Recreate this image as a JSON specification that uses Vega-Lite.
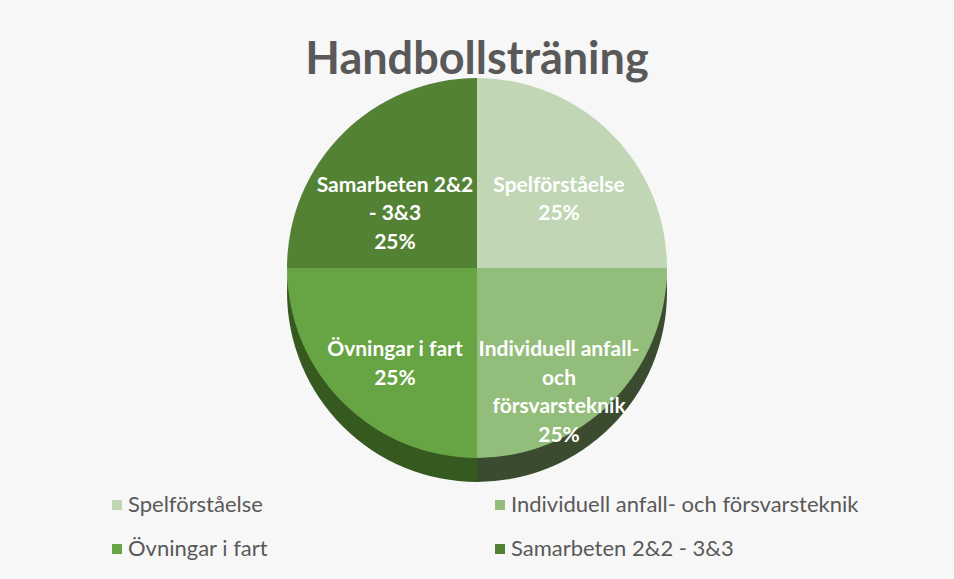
{
  "$schema": "https://vega.github.io/schema/vega-lite/v6.json",
  "width": 954,
  "height": 356,
  "autosize": {"type": "none"},
  "padding": {"top": 90, "left": 0, "right": 0, "bottom": 133},
  "background": "#f7f7f7",
  "config": {"view": {"stroke": null}, "font": "Lato"},
  "title": {
    "text": "Handbollsträning",
    "fontSize": 45,
    "font": "Lato",
    "fontWeight": "bold",
    "color": "#595959",
    "anchor": "middle",
    "baseline": "alphabetic",
    "offset": -41,
    "frame": "group"
  },
  "data": {
    "values": [
      {"category": "Spelförståelse", "value": 25, "order": 1, "label": "Spelförståelse\n25%"},
      {"category": "Individuell anfall- och försvarsteknik", "value": 25, "order": 2, "label": "Individuell anfall-\noch\nförsvarsteknik\n25%"},
      {"category": "Övningar i fart", "value": 25, "order": 3, "label": "Övningar i fart\n25%"},
      {"category": "Samarbeten 2&2 - 3&3", "value": 25, "order": 4, "label": "Samarbeten 2&2\n- 3&3\n25%"}
    ]
  },
  "layer": [
    {
      "mark": {"type": "arc", "outerRadius": 190, "yOffset": 24},
      "encoding": {
        "theta": {"field": "value", "type": "quantitative", "stack": true},
        "order": {"field": "order", "type": "quantitative"},
        "color": {
          "field": "category",
          "type": "nominal",
          "scale": {
            "domain": ["Spelförståelse", "Individuell anfall- och försvarsteknik", "Övningar i fart", "Samarbeten 2&2 - 3&3"],
            "range": ["#3a4b30", "#3a4b30", "#36591f", "#36591f"]
          },
          "legend": null
        }
      }
    },
    {
      "mark": {"type": "arc", "outerRadius": 190},
      "encoding": {
        "theta": {"field": "value", "type": "quantitative", "stack": true},
        "order": {"field": "order", "type": "quantitative"},
        "color": {
          "field": "category",
          "type": "nominal",
          "scale": {
            "domain": ["Spelförståelse", "Individuell anfall- och försvarsteknik", "Övningar i fart", "Samarbeten 2&2 - 3&3"],
            "range": ["#c0d6b4", "#93bd7b", "#67a443", "#548235"]
          },
          "legend": {
            "orient": "none",
            "legendX": 106,
            "legendY": 404,
            "columns": 2,
            "direction": "horizontal",
            "title": null,
            "symbolType": "square",
            "symbolSize": 100,
            "symbolStrokeWidth": 0,
            "labelFontSize": 22,
            "labelFont": "Lato",
            "labelColor": "#595959",
            "labelOffset": 0,
            "labelLimit": 420,
            "columnPadding": 220,
            "rowPadding": 22
          }
        }
      }
    },
    {
      "mark": {
        "type": "text",
        "radius": 116,
        "fontSize": 21,
        "fontWeight": "bold",
        "font": "Lato",
        "color": "#ffffff",
        "lineBreak": "\n",
        "lineHeight": 28.5,
        "align": "center",
        "baseline": "middle"
      },
      "encoding": {
        "theta": {"field": "value", "type": "quantitative", "stack": true},
        "order": {"field": "order", "type": "quantitative"},
        "text": {"field": "label", "type": "nominal"}
      }
    }
  ],
  "resolve": {"scale": {"color": "independent"}}
}
